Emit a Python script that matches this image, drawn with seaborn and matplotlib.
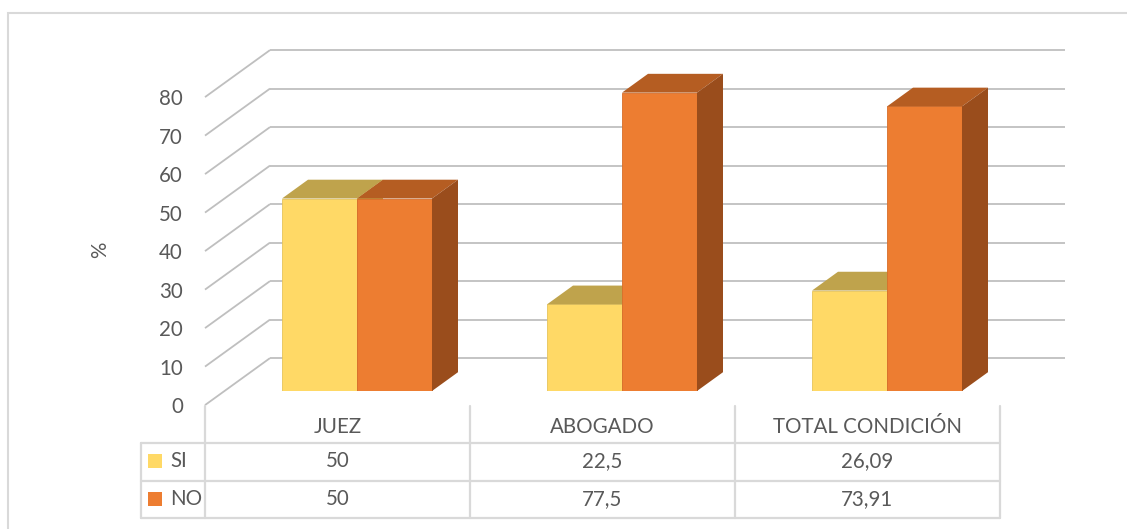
import numpy as np
import pandas as pd
import matplotlib.pyplot as plt
import seaborn as sns
from matplotlib.patches import Polygon, Rectangle
from matplotlib import transforms

# data
categorias = ['JUEZ', 'ABOGADO', 'TOTAL CONDICIÓN']
series = ['SI', 'NO']
valores_si = [50, 22.5, 26.09]
valores_no = [50, 77.5, 73.91]
ticks_y = [0, 10, 20, 30, 40, 50, 60, 70, 80]

df = pd.DataFrame({
    'cat': categorias * 2,
    'serie': ['SI'] * 3 + ['NO'] * 3,
    'valor': valores_si + valores_no,
})

col_front = {'SI': '#FFD966', 'NO': '#ED7D31'}
col_top = {'SI': '#BFA34C', 'NO': '#B55D22'}
col_side = {'SI': '#C9A84A', 'NO': '#9A4D1C'}
col_edge = {'SI': '#E6C45A', 'NO': '#D86E2A'}
grid_col = '#BFBFBF'
txt_col = '#595959'
fs = 14.8

sns.set_theme(style='white')
plt.rcParams['font.family'] = ['Lato', 'DejaVu Sans']

W, H = 1127, 529
fig = plt.figure(figsize=(W / 100, H / 100), dpi=100)
ax = fig.add_axes([224.5 / W, (H - 391) / H, 795 / W, 346.5 / H])

sns.barplot(data=df, x='cat', y='valor', hue='serie', hue_order=series,
            palette=col_front, width=0.566, saturation=1, legend=False, ax=ax)
ax.set_xlim(-0.5, 2.5)
ax.set_ylim(0, 90)
ax.axis('off')

# pseudo 3D depth: one full depth of the floor, in data units
DX = 65 / 265
DV = 47 / 3.85
T0, T1, TB = -0.3, 0.7, 0.4

# walls
xf = -0.5 + T0 * DX
xb = -0.5 + T1 * DX
for v in ticks_y:
    ax.plot([xf, xb], [v + T0 * DV, v + T1 * DV], color=grid_col, lw=1.3,
            clip_on=False, zorder=1, solid_capstyle='butt')
    ax.plot([xb, 2.5 + T1 * DX], [v + T1 * DV] * 2, color=grid_col, lw=1.3,
            clip_on=False, zorder=1, solid_capstyle='butt')

lab_tr = transforms.offset_copy(ax.transData, fig=fig, x=-22, y=-2, units='dots')
for v in ticks_y:
    ax.text(xf, v + T0 * DV, str(v), transform=lab_tr, ha='right', va='center',
            fontsize=fs, color=txt_col, clip_on=False)

fig.text(100 / W, 1 - 250 / H, '%', rotation=90, ha='center', va='center',
         fontsize=fs, color=txt_col)

# bar tops and sides
bdx, bdv = TB * DX, TB * DV
for k, (s, cont) in enumerate(zip(series, ax.containers)):
    z = 3 + k
    for bar in cont:
        x0, w, h = bar.get_x(), bar.get_width(), bar.get_height()
        bar.set_zorder(z)
        bar.set_edgecolor(col_edge[s])
        bar.set_linewidth(0.6)
        top = Polygon([(x0, h), (x0 + w, h), (x0 + w + bdx, h + bdv), (x0 + bdx, h + bdv)],
                      closed=True, facecolor=col_top[s], edgecolor='none', zorder=z, clip_on=False)
        side = Polygon([(x0 + w, 0), (x0 + w + bdx, bdv), (x0 + w + bdx, h + bdv), (x0 + w, h)],
                       closed=True, facecolor=col_side[s], edgecolor='none', zorder=z, clip_on=False)
        ax.add_patch(top)
        ax.add_patch(side)

# data table under the chart
tt = transforms.blended_transform_factory(ax.transData, fig.transFigure)
fy = lambda px: 1 - px / H
x_hdr = xf - 64 / 265
tab_kw = dict(color='#D9D9D9', lw=1.6, transform=tt, clip_on=False)
for yp in [443, 481, 518]:
    ax.plot([x_hdr, xf + 3], [fy(yp)] * 2, **tab_kw)
ax.plot([x_hdr, x_hdr], [fy(443), fy(518)], **tab_kw)
for k in range(4):
    ax.plot([xf + k, xf + k], [fy(406), fy(518)], **tab_kw)

for k, c in enumerate(categorias):
    ax.text(xf + k + 0.5, fy(427), c, transform=tt, ha='center', va='center',
            fontsize=fs, color=txt_col)
for s, vals, yp in [('SI', valores_si, 461), ('NO', valores_no, 499)]:
    ax.add_patch(Rectangle((x_hdr + 7 / 265, fy(yp + 7)), 14 / 265, 14 / H,
                           transform=tt, facecolor=col_front[s], edgecolor='none',
                           clip_on=False))
    ax.text(x_hdr + 29 / 265, fy(yp), s, transform=tt, ha='left', va='center',
            fontsize=fs, color=txt_col)
    for k, v in enumerate(vals):
        ax.text(xf + k + 0.5, fy(yp), f'{v:g}'.replace('.', ','), transform=tt,
                ha='center', va='center', fontsize=fs, color=txt_col)

# chart frame
fig.patches.append(Rectangle((8 / W, -0.05), 1.1, 1 - 13 / H + 0.05, transform=fig.transFigure,
                             fill=False, edgecolor='#D9D9D9', lw=1.5))

fig.savefig('out.png', dpi=100)
